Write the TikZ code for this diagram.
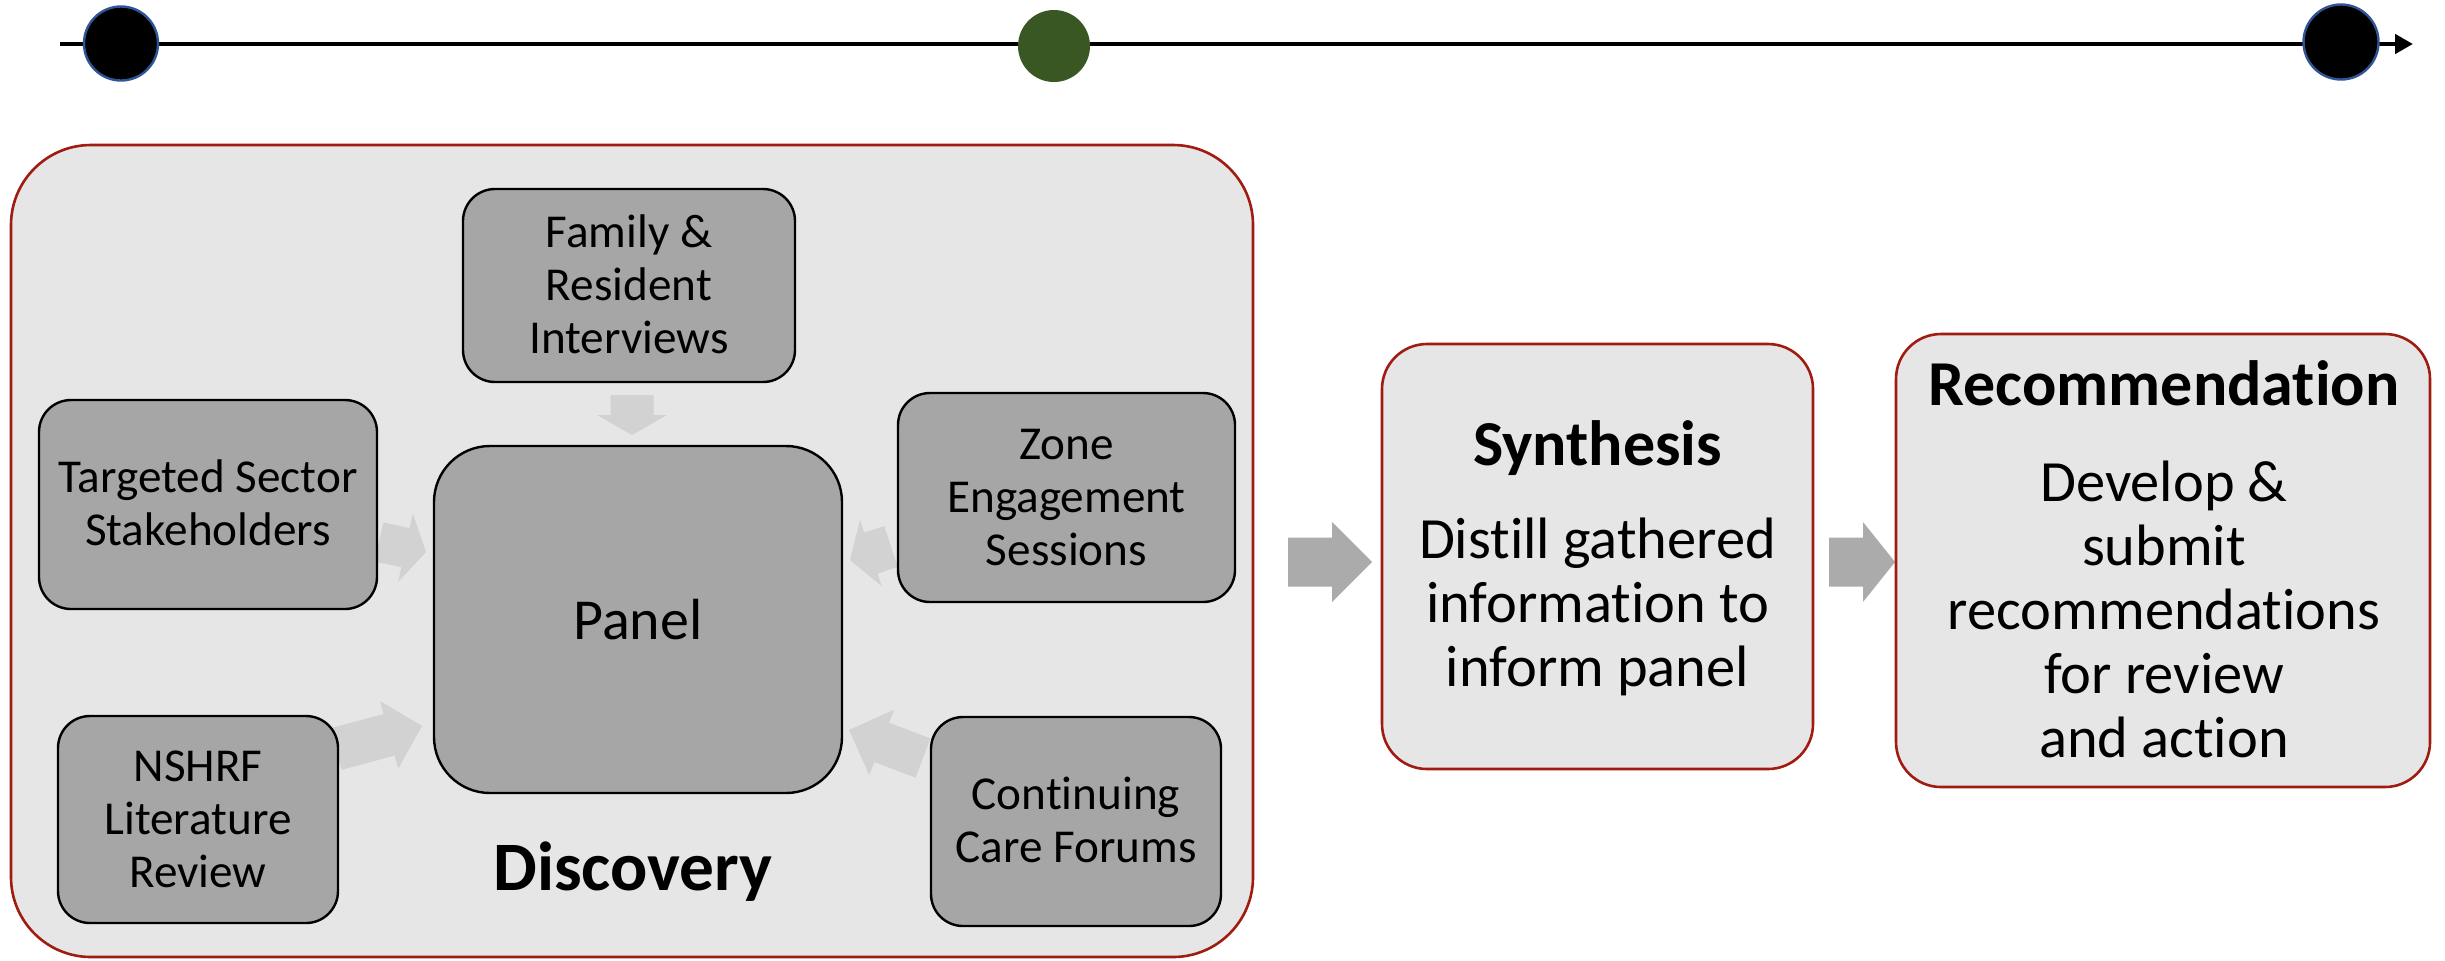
\documentclass[tikz,border=0pt]{standalone}
\usepackage{fontspec}
\setmainfont{Carlito}[Ligatures=NoCommon]
\usetikzlibrary{calc,arrows.meta}
\definecolor{outerfill}{HTML}{E6E6E6}
\definecolor{innerfill}{HTML}{A6A6A6}
\definecolor{smallarrow}{HTML}{D2D2D2}
\definecolor{bigarrow}{HTML}{ABABAB}
\definecolor{phasered}{HTML}{A01B10}
\definecolor{dotblue}{HTML}{2F5597}
\definecolor{dotgreen}{HTML}{385723}
\newcommand{\Lns}[1]{\begin{tabular}[t]{@{}c@{}}#1\end{tabular}}
\newcommand{\BoxLns}[1]{\raisebox{-2pt}[\height][\depth]{\Lns{#1}}}
% #1 colour, #2 tail, #3 tip, #4 shaft half-width, #5 head half-width, #6 head length
\newcommand{\BlkArrow}[6]{%
  \coordinate (bac) at ($(#3)!#6!(#2)$);
  \fill[#1] ($(#2)!#4!90:(#3)$) -- ($(bac)!#4!90:(#3)$) -- ($(bac)!#5!90:(#3)$) -- (#3)
    -- ($(bac)!#5!-90:(#3)$) -- ($(bac)!#4!-90:(#3)$) -- ($(#2)!#4!-90:(#3)$) -- cycle;}
\begin{document}
\begin{tikzpicture}[x=0.5pt,y=-0.5pt,
  smallbox/.style={draw=black, line width=1.2pt, fill=innerfill, rounded corners=16pt,
    inner sep=0pt, font=\fontsize{23.6}{26.5}\selectfont},
  phasebox/.style={draw=phasered, line width=1.3pt, fill=outerfill, rounded corners=22.5pt, inner sep=0pt},
  dot/.style={circle, inner sep=0pt, line width=1.2pt},
  titletext/.style={font=\bfseries\fontsize{32}{38}\selectfont, anchor=base, inner sep=0pt},
  bodytext/.style={font=\fontsize{29.2}{32}\selectfont, anchor=base, inner sep=0pt}]
\useasboundingbox (0,0) rectangle (2445,960);

% timeline
\coordinate (tls) at (60,44);
\coordinate (tle) at (2413,44);
\draw[line width=2.25pt, -{Triangle[length=9pt,width=9.5pt]}] (tls) -- (tle);
\node[dot, fill=black, draw=dotblue, minimum size=37pt] (m1) at (121,43.5) {};
\node[dot, fill=dotgreen, minimum size=36pt] (m2) at (1054,46) {};
\node[dot, fill=black, draw=dotblue, minimum size=37.5pt] (m3) at (2341,42) {};

% discovery container
\node[draw=phasered, line width=1.3pt, fill=outerfill, rounded corners=40pt,
  minimum width=621pt, minimum height=406pt, inner sep=0pt] (disc) at (632,551) {};

% small arrows into the panel
\coordinate (fa1) at (632,395); \coordinate (fa2) at (632,435);
\BlkArrow{smallarrow}{fa1}{fa2}{10.75pt}{17.5pt}{10pt}
\coordinate (ta1) at (379,542); \coordinate (ta2) at (426,552);
\BlkArrow{smallarrow}{ta1}{ta2}{10pt}{17.5pt}{10.5pt}
\coordinate (na1) at (336,749); \coordinate (na2) at (422,726);
\BlkArrow{smallarrow}{na1}{na2}{10.75pt}{17.5pt}{17pt}
\coordinate (za1) at (891,546.5); \coordinate (za2) at (850,560);
\BlkArrow{smallarrow}{za1}{za2}{10.75pt}{17.5pt}{11pt}
\coordinate (ca1) at (923,758); \coordinate (ca2) at (849,730);
\BlkArrow{smallarrow}{ca1}{ca2}{10.5pt}{17.5pt}{17.5pt}

% inner boxes
\node[smallbox, minimum width=166pt, minimum height=96.5pt] (family) at (629,285.5)
  {\BoxLns{Family \&\\Resident\\Interviews}};
\node[smallbox, minimum width=169pt, minimum height=104.5pt] (targeted) at (208,504.5)
  {\BoxLns{Targeted Sector\\Stakeholders}};
\node[smallbox, minimum width=168.5pt, minimum height=104.5pt] (zone) at (1066.5,497.5)
  {\BoxLns{Zone\\Engagement\\Sessions}};
\node[smallbox, minimum width=140pt, minimum height=103.5pt] (nshrf) at (198,819.5)
  {\BoxLns{NSHRF\\Literature\\Review}};
\node[smallbox, minimum width=145pt, minimum height=104.5pt] (forums) at (1076,821.5)
  {\BoxLns{Continuing\\Care Forums}};
\node[draw=black, line width=1.2pt, fill=innerfill, rounded corners=28pt, inner sep=0pt,
  minimum width=204pt, minimum height=173.5pt, font=\fontsize{29}{34}\selectfont] (panel) at (638,619.5) {Panel};
\node[font=\bfseries\fontsize{34.7}{40}\selectfont, anchor=base, inner sep=0pt] (disclabel) at (633,890) {Discovery};

% big arrows
\coordinate (b1s) at (1288,562); \coordinate (b1e) at (1372,562);
\BlkArrow{bigarrow}{b1s}{b1e}{12.25pt}{20pt}{20pt}
\coordinate (b2s) at (1829,562); \coordinate (b2e) at (1895,562);
\BlkArrow{bigarrow}{b2s}{b2e}{12.25pt}{20pt}{16pt}

% synthesis
\node[phasebox, minimum width=215.5pt, minimum height=212.5pt] (syn) at (1597.5,556.5) {};
\node[titletext] (syntitle) at (1597.5,465) {Synthesis};
\node[bodytext] (synbody) at (1597.5,558) {\Lns{Distill gathered\\information to\\inform panel}};

% recommendation
\node[phasebox, minimum width=267pt, minimum height=226.5pt] (rec) at (2163,560.5) {};
\node[titletext] (rectitle) at (2164,405) {Recommendation};
\node[bodytext] (recbody) at (2164,501) {\Lns{Develop \&\\submit\\recommendations\\for review\\and action}};
\end{tikzpicture}
\end{document}
